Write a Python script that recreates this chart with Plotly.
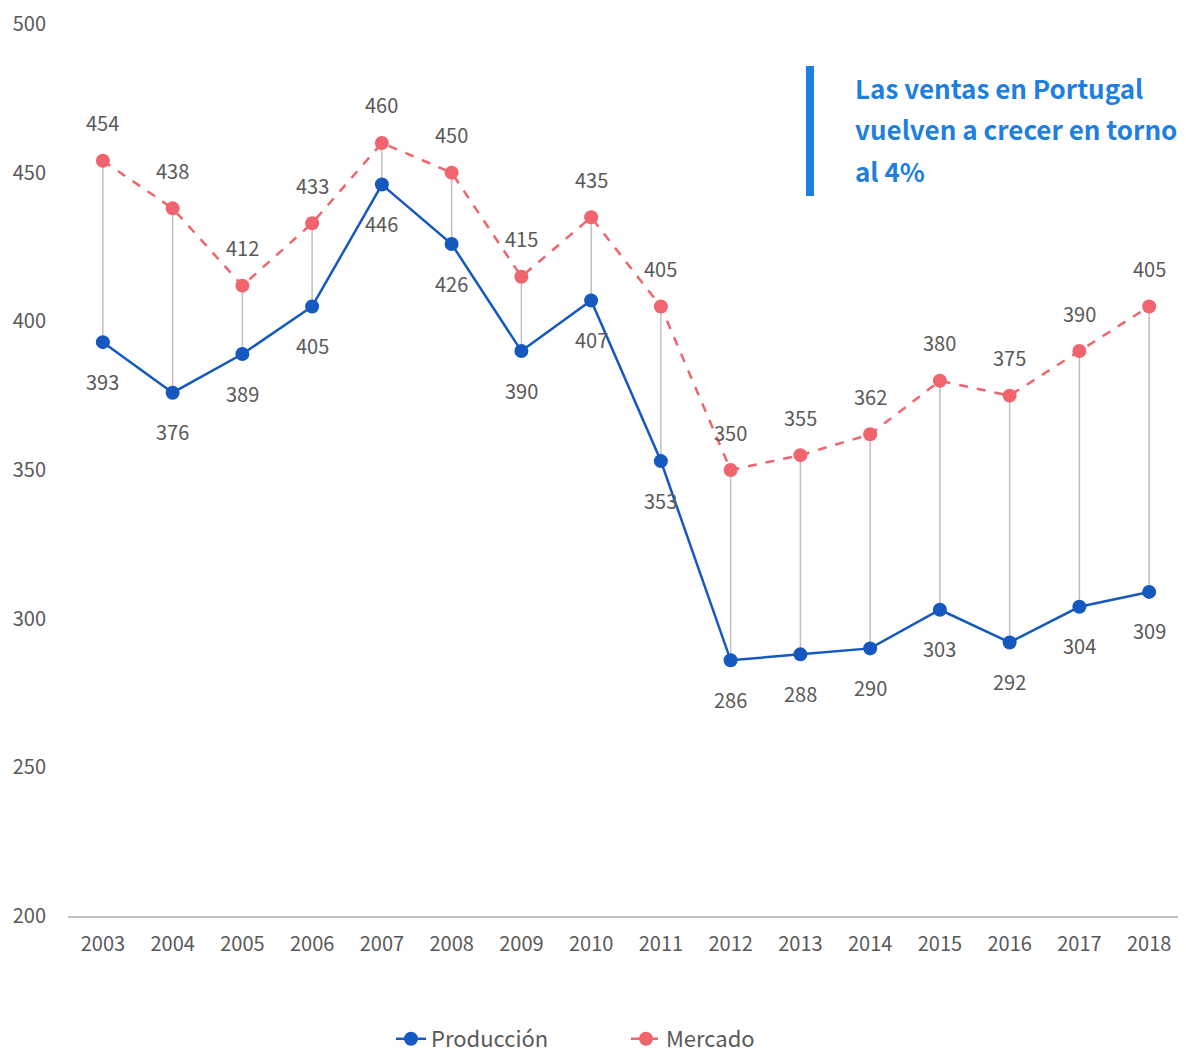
import plotly.graph_objects as go

years = list(range(2003, 2019))
produccion = [393, 376, 389, 405, 446, 426, 390, 407, 353, 286, 288, 290, 303, 292, 304, 309]
mercado = [454, 438, 412, 433, 460, 450, 415, 435, 405, 350, 355, 362, 380, 375, 390, 405]
callout_lines = ["Las ventas en Portugal", "vuelven a crecer en torno", "al 4%"]

BLUE = "#1558C0"
RED = "#F0646E"
GRAY_TXT = "#595959"
FONT = "Noto Sans CJK JP"

fig = go.Figure()

# connector lines
cx, cy = [], []
for yr, p, m in zip(years, produccion, mercado):
    cx += [yr, yr, None]
    cy += [m, p, None]
fig.add_trace(go.Scatter(x=cx, y=cy, mode="lines", line=dict(color="#BFBFBF", width=1.5),
                         showlegend=False, hoverinfo="skip", connectgaps=False))

fig.add_trace(go.Scatter(x=years, y=produccion, mode="lines+markers", name="Producción",
                         line=dict(color=BLUE, width=2.5),
                         marker=dict(size=14, color=BLUE)))
fig.add_trace(go.Scatter(x=years, y=mercado, mode="lines+markers", name="Mercado",
                         line=dict(color=RED, width=2.5, dash="dash"),
                         marker=dict(size=14, color=RED)))

for yr, p, m in zip(years, produccion, mercado):
    fig.add_annotation(x=yr, y=m, text=str(m), showarrow=False, yshift=38,
                       font=dict(size=20, color=GRAY_TXT, family=FONT))
    fig.add_annotation(x=yr, y=p, text=str(p), showarrow=False, yshift=-39,
                       font=dict(size=20, color=GRAY_TXT, family=FONT))

# callout (paper coords relative to plot area: left 68, top 24, height 892, width 1116 page px)
fig.add_shape(type="rect", xref="paper", yref="paper",
              x0=(806 - 68) / 1116, x1=(814 - 68) / 1116,
              y0=(916 - 196) / 892, y1=(916 - 66) / 892,
              fillcolor="#1E7FE0", line=dict(width=0))
for i, line in enumerate(callout_lines):
    fig.add_annotation(xref="paper", yref="paper", x=(853 - 68) / 1116,
                       y=(916 - (87 + 42 * i)) / 892,
                       xanchor="left", yanchor="middle", align="left", showarrow=False,
                       text="<b>" + line + "</b>",
                       font=dict(size=26, color="#1E7FE0", family=FONT))

# page has an 8px body margin, so the figure is drawn at (8, 8)
fig.update_layout(
    width=1178, height=1045,
    margin=dict(l=60, r=2, t=16, b=137, autoexpand=False),
    plot_bgcolor="white", paper_bgcolor="white",
    font=dict(family=FONT, size=20, color=GRAY_TXT),
    xaxis=dict(range=[2002.5, 2018.5], tickvals=years, ticktext=[str(y) for y in years],
               showgrid=False, zeroline=False, showline=True, linecolor="#BFBFBF",
               linewidth=1.5, ticks="", ticklabelstandoff=9, automargin=False,
               tickfont=dict(size=20, color=GRAY_TXT)),
    yaxis=dict(range=[200, 500], dtick=50, showgrid=False, zeroline=False, showline=False,
               ticks="", ticklabelstandoff=21, automargin=False,
               tickfont=dict(size=20, color=GRAY_TXT)),
    legend=dict(orientation="h", x=0.5, xanchor="center",
                y=(916 - 1039) / 892, yanchor="middle", entrywidth=190,
                font=dict(size=22, color=GRAY_TXT)),
    showlegend=True,
)

fig.write_html("out.html")
